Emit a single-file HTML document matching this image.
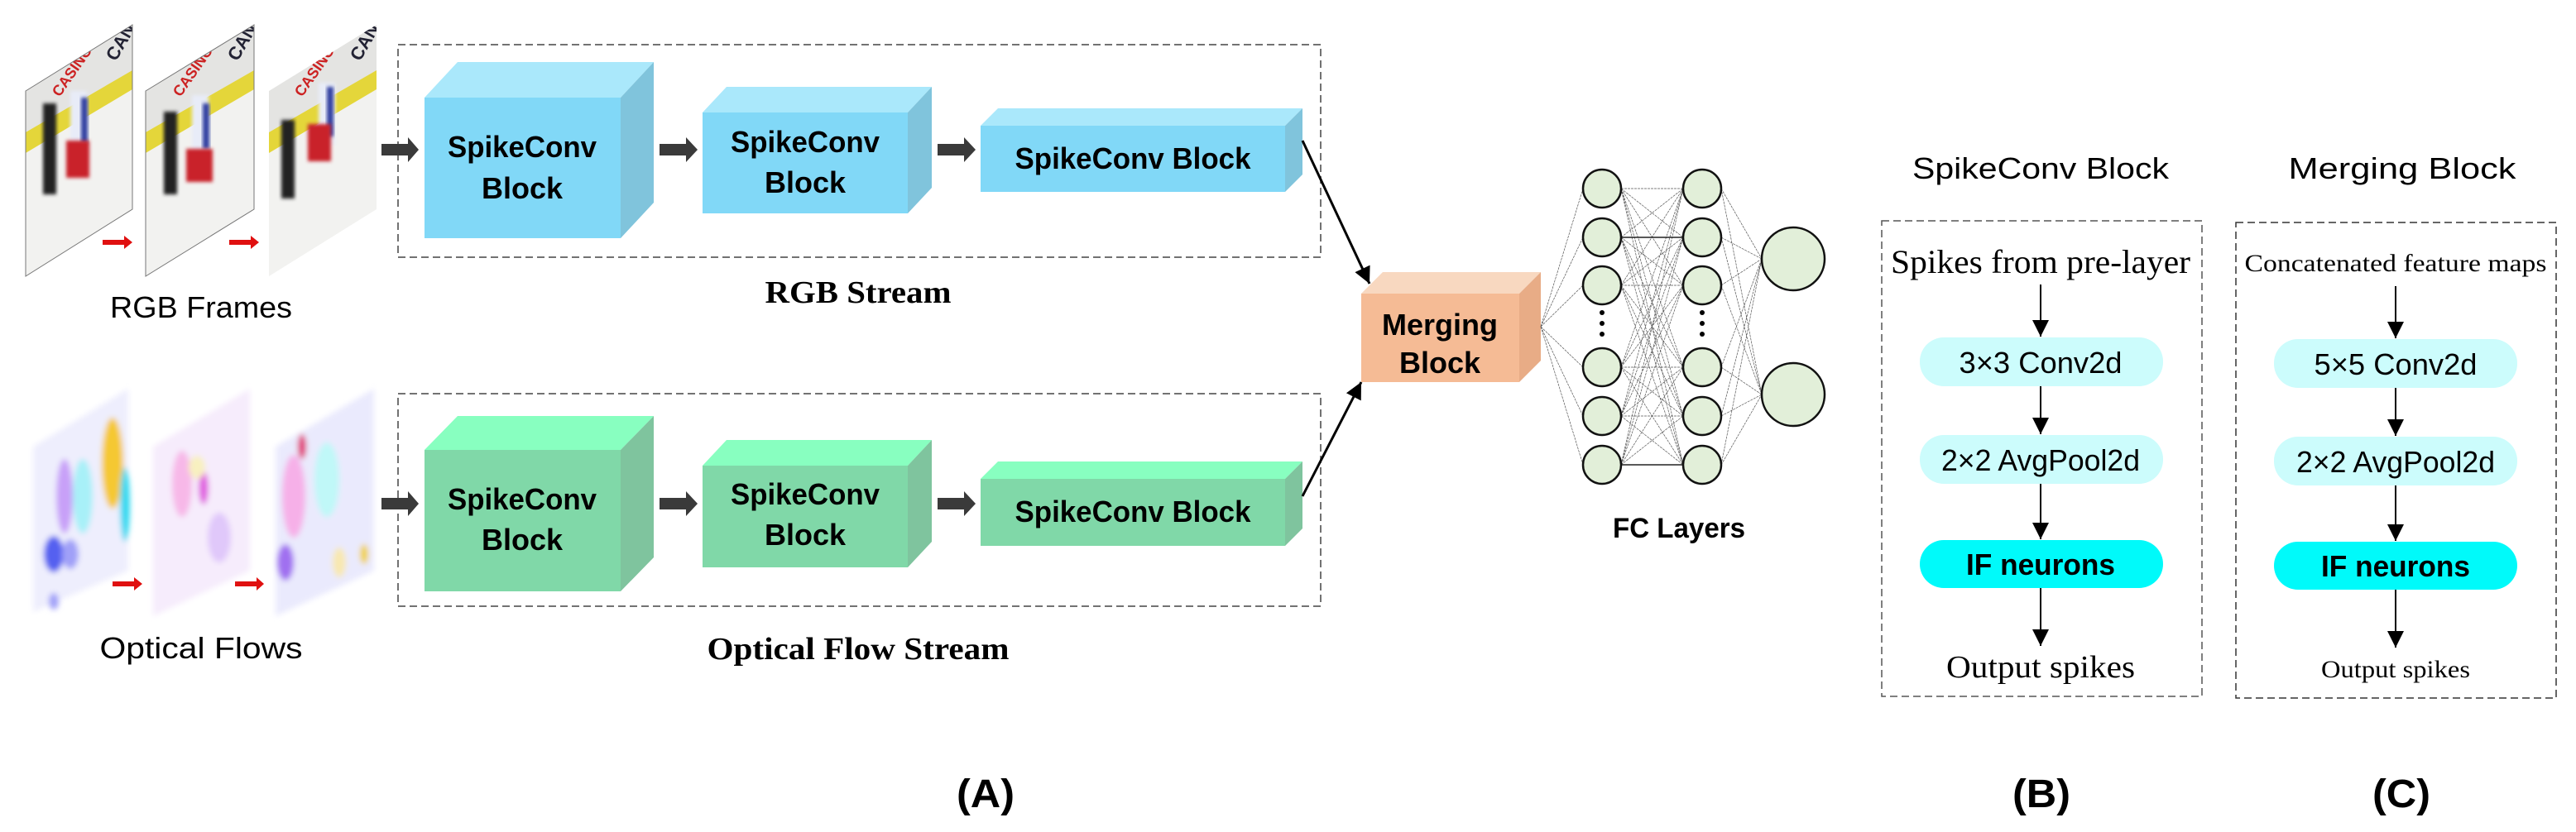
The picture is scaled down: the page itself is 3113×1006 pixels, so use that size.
<!DOCTYPE html>
<html><head><meta charset="utf-8"><style>
html,body{margin:0;padding:0;background:#fff;}
svg{display:block;}
.sans{font-family:"Liberation Sans",sans-serif;}
.serif{font-family:"Liberation Serif",serif;}
</style></head><body>
<svg width="3113" height="1006" viewBox="0 0 3113 1006" xmlns="http://www.w3.org/2000/svg">
<defs>
<filter id="bl" x="-20%" y="-20%" width="140%" height="140%"><feGaussianBlur stdDeviation="3.5"/></filter>
<filter id="bl2" x="-20%" y="-20%" width="140%" height="140%"><feGaussianBlur stdDeviation="2"/></filter>
<marker id="ah2" viewBox="0 0 10 10" refX="10" refY="5" markerWidth="28" markerHeight="20" orient="auto" markerUnits="userSpaceOnUse"><path d="M0,0 L10,5 L0,10 z" fill="#000"/></marker>
<clipPath id="f1"><polygon points="31,110 160,30 160,253 31,334"/></clipPath>
<clipPath id="f2"><polygon points="176,110 307,30 307,253 176,334"/></clipPath>
<clipPath id="f3"><polygon points="325,110 455,30 455,253 325,334"/></clipPath>
</defs>

<!-- RGB frames -->
<g clip-path="url(#f1)">
 <rect x="30" y="20" width="140" height="330" fill="#f2f2f0"/>
 <polygon points="31,110 160,30 160,95 31,165" fill="#e4e4e2"/>
 <polygon points="31,160 160,85 160,108 31,185" fill="#e4d63a"/>
 <rect x="52" y="125" width="16" height="110" fill="#222" filter="url(#bl2)"/>
 <rect x="85" y="110" width="20" height="70" fill="#e8ecf8" filter="url(#bl2)"/>
 <rect x="98" y="118" width="8" height="55" fill="#3040a0" filter="url(#bl2)"/>
 <rect x="80" y="170" width="28" height="45" fill="#c9202a" filter="url(#bl2)"/>
 <text x="72" y="118" font-size="18" fill="#c22" class="sans" font-weight="bold" transform="rotate(-55 72 118)">CASINO</text>
 <text x="140" y="75" font-size="22" fill="#223" class="sans" font-weight="bold" transform="rotate(-60 140 75)">CAN</text>
</g>
<polygon points="31,110 160,30 160,253 31,334" fill="none" stroke="#777" stroke-width="1"/>
<g clip-path="url(#f2)">
 <rect x="170" y="20" width="145" height="330" fill="#f2f2f0"/>
 <polygon points="176,110 307,30 307,95 176,165" fill="#e4e4e2"/>
 <polygon points="176,160 307,85 307,108 176,185" fill="#e4d63a"/>
 <rect x="198" y="135" width="16" height="100" fill="#222" filter="url(#bl2)"/>
 <rect x="232" y="115" width="20" height="70" fill="#e8ecf8" filter="url(#bl2)"/>
 <rect x="245" y="125" width="8" height="55" fill="#3040a0" filter="url(#bl2)"/>
 <rect x="225" y="180" width="32" height="40" fill="#c9202a" filter="url(#bl2)"/>
 <text x="218" y="118" font-size="18" fill="#c22" class="sans" font-weight="bold" transform="rotate(-55 218 118)">CASINO</text>
 <text x="287" y="75" font-size="22" fill="#223" class="sans" font-weight="bold" transform="rotate(-60 287 75)">CAN</text>
</g>
<polygon points="176,110 307,30 307,253 176,334" fill="none" stroke="#777" stroke-width="1"/>
<g clip-path="url(#f3)">
 <rect x="320" y="20" width="140" height="330" fill="#f2f2f0"/>
 <polygon points="325,110 455,30 455,95 325,165" fill="#e4e4e2"/>
 <polygon points="325,160 455,85 455,108 325,185" fill="#e4d63a"/>
 <rect x="340" y="145" width="16" height="95" fill="#222" filter="url(#bl2)"/>
 <rect x="385" y="100" width="20" height="75" fill="#e8ecf8" filter="url(#bl2)"/>
 <rect x="395" y="105" width="8" height="60" fill="#3040a0" filter="url(#bl2)"/>
 <rect x="372" y="150" width="28" height="45" fill="#c9202a" filter="url(#bl2)"/>
 <text x="365" y="118" font-size="18" fill="#c22" class="sans" font-weight="bold" transform="rotate(-55 365 118)">CASINO</text>
 <text x="435" y="75" font-size="22" fill="#223" class="sans" font-weight="bold" transform="rotate(-60 435 75)">CAN</text>
</g>
<!-- red arrows -->
<g fill="#e01010">
 <polygon points="124,290 150,290 150,285 160,293 150,301 150,296 124,296"/>
 <polygon points="277,290 303,290 303,285 313,293 303,301 303,296 277,296"/>
 <polygon points="136,703 162,703 162,698 172,706 162,714 162,709 136,709"/>
 <polygon points="284,703 310,703 310,698 319,706 310,714 310,709 284,709"/>
</g>

<!-- optical flow frames -->
<g filter="url(#bl)">
 <polygon points="40,540 155,470 155,690 40,740" fill="#eeeefd"/>
 <ellipse cx="136" cy="560" rx="13" ry="55" fill="#f5c830"/>
 <ellipse cx="151" cy="610" rx="6" ry="45" fill="#30d8f0"/>
 <ellipse cx="100" cy="600" rx="12" ry="45" fill="#a8f0f8"/>
 <ellipse cx="78" cy="600" rx="10" ry="45" fill="#c8a0f8"/>
 <ellipse cx="65" cy="670" rx="12" ry="22" fill="#5560f0"/>
 <ellipse cx="85" cy="670" rx="10" ry="18" fill="#a0a0f8"/>
 <ellipse cx="65" cy="727" rx="6" ry="10" fill="#a0a0f8"/>
 <polygon points="185,540 302,470 302,690 185,745" fill="#f6ecfc"/>
 <ellipse cx="220" cy="585" rx="12" ry="40" fill="#f7b8e8"/>
 <ellipse cx="246" cy="590" rx="6" ry="20" fill="#e060e0"/>
 <ellipse cx="238" cy="565" rx="10" ry="14" fill="#f8f0c0"/>
 <ellipse cx="265" cy="650" rx="14" ry="30" fill="#e0c8fa"/>
 <polygon points="333,540 452,470 452,690 333,745" fill="#eaeafd"/>
 <ellipse cx="355" cy="600" rx="14" ry="50" fill="#f6b0e8"/>
 <ellipse cx="395" cy="580" rx="15" ry="45" fill="#c0f8f8"/>
 <ellipse cx="365" cy="540" rx="5" ry="15" fill="#e02070"/>
 <ellipse cx="345" cy="680" rx="10" ry="22" fill="#a070f0"/>
 <ellipse cx="440" cy="670" rx="5" ry="12" fill="#f0d030"/>
 <ellipse cx="410" cy="680" rx="8" ry="18" fill="#f8e8b0"/>
</g>

<!-- labels -->
<text x="243" y="384" text-anchor="middle" font-size="36" class="sans" textLength="220" lengthAdjust="spacingAndGlyphs">RGB Frames</text>
<text x="243" y="796" text-anchor="middle" font-size="36" class="sans" textLength="245" lengthAdjust="spacingAndGlyphs">Optical Flows</text>
<text x="1037" y="366" text-anchor="middle" font-size="38" font-weight="bold" class="serif" textLength="225" lengthAdjust="spacingAndGlyphs">RGB Stream</text>
<text x="1037" y="797" text-anchor="middle" font-size="38" font-weight="bold" class="serif" textLength="365" lengthAdjust="spacingAndGlyphs">Optical Flow Stream</text>

<!-- dashed stream boxes -->
<rect x="481" y="54" width="1115" height="257" fill="none" stroke="#444" stroke-width="1.5" stroke-dasharray="9,5"/>
<rect x="481" y="476" width="1115" height="257" fill="none" stroke="#444" stroke-width="1.5" stroke-dasharray="9,5"/>

<!-- RGB blocks -->
<g>
 <polygon points="513,118 553,75 790,75 750,118" fill="#aae8fb"/>
 <polygon points="750,118 790,75 790,245 750,288" fill="#80c4dc"/>
 <rect x="513" y="118" width="237" height="170" fill="#81d8f7"/>
 <polygon points="849,136 878,105 1126,105 1097,136" fill="#aae8fb"/>
 <polygon points="1097,136 1126,105 1126,227 1097,258" fill="#80c4dc"/>
 <rect x="849" y="136" width="248" height="122" fill="#81d8f7"/>
 <polygon points="1185,152 1206,131 1574,131 1553,152" fill="#aae8fb"/>
 <polygon points="1553,152 1574,131 1574,211 1553,232" fill="#80c4dc"/>
 <rect x="1185" y="152" width="368" height="80" fill="#81d8f7"/>
</g>
<!-- OF blocks -->
<g>
 <polygon points="513,544 553,503 790,503 750,544" fill="#88ffc0"/>
 <polygon points="750,544 790,503 790,674 750,715" fill="#7fc49e"/>
 <rect x="513" y="544" width="237" height="171" fill="#80d8a8"/>
 <polygon points="849,563 878,532 1126,532 1097,563" fill="#88ffc0"/>
 <polygon points="1097,563 1126,532 1126,655 1097,686" fill="#7fc49e"/>
 <rect x="849" y="563" width="248" height="123" fill="#80d8a8"/>
 <polygon points="1185,579 1206,558 1574,558 1553,579" fill="#88ffc0"/>
 <polygon points="1553,579 1574,558 1574,639 1553,660" fill="#7fc49e"/>
 <rect x="1185" y="579" width="368" height="81" fill="#80d8a8"/>
</g>
<g class="sans" font-weight="bold" font-size="36" text-anchor="middle" fill="#000">
 <text x="631" y="190" textLength="180" lengthAdjust="spacingAndGlyphs">SpikeConv</text>
 <text x="631" y="240">Block</text>
 <text x="973" y="184" textLength="180" lengthAdjust="spacingAndGlyphs">SpikeConv</text>
 <text x="973" y="233">Block</text>
 <text x="1369" y="204" textLength="285" lengthAdjust="spacingAndGlyphs">SpikeConv Block</text>
 <text x="631" y="616" textLength="180" lengthAdjust="spacingAndGlyphs">SpikeConv</text>
 <text x="631" y="665">Block</text>
 <text x="973" y="610" textLength="180" lengthAdjust="spacingAndGlyphs">SpikeConv</text>
 <text x="973" y="659">Block</text>
 <text x="1369" y="631" textLength="285" lengthAdjust="spacingAndGlyphs">SpikeConv Block</text>
</g>
<!-- thick arrows -->
<g fill="#3a3a3a">
 <polygon points="461,174 493,174 493,166 506,181 493,196 493,188 461,188"/>
 <polygon points="797,174 829,174 829,166 843,181 829,196 829,188 797,188"/>
 <polygon points="1133,174 1165,174 1165,166 1179,181 1165,196 1165,188 1133,188"/>
 <polygon points="461,602 493,602 493,594 506,609 493,624 493,616 461,616"/>
 <polygon points="797,602 829,602 829,594 843,609 829,624 829,616 797,616"/>
 <polygon points="1133,602 1165,602 1165,594 1179,609 1165,624 1165,616 1133,616"/>
</g>

<!-- arrows to merge -->
<line x1="1574" y1="170" x2="1655" y2="343" stroke="#000" stroke-width="3" marker-end="url(#ah2)"/>
<line x1="1574" y1="600" x2="1645" y2="462" stroke="#000" stroke-width="3" marker-end="url(#ah2)"/>

<!-- merging block -->
<polygon points="1645,355 1671,329 1862,329 1836,355" fill="#f8d8c0"/>
<polygon points="1836,355 1862,329 1862,436 1836,462" fill="#e8ac86"/>
<rect x="1645" y="355" width="191" height="107" fill="#f5bb95"/>
<text x="1740" y="405" text-anchor="middle" font-size="36" font-weight="bold" class="sans" textLength="140" lengthAdjust="spacingAndGlyphs">Merging</text>
<text x="1740" y="451" text-anchor="middle" font-size="36" font-weight="bold" class="sans">Block</text>

<!-- FC layers -->
<g stroke="#555" stroke-width="0.7" fill="none" stroke-dasharray="3,1">
 <path d="M1862,395 L1913,228 M1862,395 L1913,287 M1862,395 L1913,345 M1862,395 L1913,444 M1862,395 L1913,503 M1862,395 L1913,562"/>
 <path d="M1959,228 L2034,228 M1959,228 L2034,287 M1959,228 L2034,345 M1959,228 L2034,444 M1959,228 L2034,503 M1959,228 L2034,562
 M1959,287 L2034,228 M1959,287 L2034,287 M1959,287 L2034,345 M1959,287 L2034,444 M1959,287 L2034,503 M1959,287 L2034,562
 M1959,345 L2034,228 M1959,345 L2034,287 M1959,345 L2034,345 M1959,345 L2034,444 M1959,345 L2034,503 M1959,345 L2034,562
 M1959,444 L2034,228 M1959,444 L2034,287 M1959,444 L2034,345 M1959,444 L2034,444 M1959,444 L2034,503 M1959,444 L2034,562
 M1959,503 L2034,228 M1959,503 L2034,287 M1959,503 L2034,345 M1959,503 L2034,444 M1959,503 L2034,503 M1959,503 L2034,562
 M1959,562 L2034,228 M1959,562 L2034,287 M1959,562 L2034,345 M1959,562 L2034,444 M1959,562 L2034,503 M1959,562 L2034,562"/>
 <path d="M2080,228 L2129,313 M2080,287 L2129,313 M2080,345 L2129,313 M2080,444 L2129,313 M2080,503 L2129,313 M2080,562 L2129,313
 M2080,228 L2129,477 M2080,287 L2129,477 M2080,345 L2129,477 M2080,444 L2129,477 M2080,503 L2129,477 M2080,562 L2129,477"/>
</g>
<g stroke="#222" stroke-width="1.5">
 <line x1="1959" y1="287" x2="2034" y2="287"/><line x1="1959" y1="562" x2="2034" y2="562"/>
</g>
<g fill="#e2efd9" stroke="#111" stroke-width="2.5">
 <ellipse cx="1936" cy="228" rx="23" ry="23"/><ellipse cx="1936" cy="287" rx="23" ry="23"/><ellipse cx="1936" cy="345" rx="23" ry="23"/>
 <ellipse cx="1936" cy="444" rx="23" ry="23"/><ellipse cx="1936" cy="503" rx="23" ry="23"/><ellipse cx="1936" cy="562" rx="23" ry="23"/>
 <ellipse cx="2057" cy="228" rx="23" ry="23"/><ellipse cx="2057" cy="287" rx="23" ry="23"/><ellipse cx="2057" cy="345" rx="23" ry="23"/>
 <ellipse cx="2057" cy="444" rx="23" ry="23"/><ellipse cx="2057" cy="503" rx="23" ry="23"/><ellipse cx="2057" cy="562" rx="23" ry="23"/>
 <ellipse cx="2167" cy="313" rx="38" ry="38"/><ellipse cx="2167" cy="477" rx="38" ry="38"/>
</g>
<g fill="#000">
 <circle cx="1936" cy="378" r="3"/><circle cx="1936" cy="391" r="3"/><circle cx="1936" cy="404" r="3"/>
 <circle cx="2057" cy="378" r="3"/><circle cx="2057" cy="391" r="3"/><circle cx="2057" cy="404" r="3"/>
</g>
<text x="2029" y="650" text-anchor="middle" font-size="34" font-weight="bold" class="sans" textLength="160" lengthAdjust="spacingAndGlyphs">FC Layers</text>

<!-- panel B -->
<text x="2466" y="216" text-anchor="middle" font-size="36" class="sans" textLength="310" lengthAdjust="spacingAndGlyphs">SpikeConv Block</text>
<rect x="2274" y="267" width="387" height="575" fill="none" stroke="#555" stroke-width="1.5" stroke-dasharray="9,5"/>
<text x="2466" y="330" text-anchor="middle" font-size="40" class="serif" textLength="362" lengthAdjust="spacingAndGlyphs">Spikes from pre-layer</text>
<g stroke="#000" stroke-width="2">
 <line x1="2466" y1="344" x2="2466" y2="407" marker-end="url(#ah2)"/>
 <line x1="2466" y1="467" x2="2466" y2="525" marker-end="url(#ah2)"/>
 <line x1="2466" y1="585" x2="2466" y2="652" marker-end="url(#ah2)"/>
 <line x1="2466" y1="711" x2="2466" y2="781" marker-end="url(#ah2)"/>
</g>
<rect x="2320" y="408" width="294" height="59" rx="29" fill="#ccfcfc"/>
<rect x="2320" y="526" width="294" height="59" rx="29" fill="#ccfcfc"/>
<rect x="2320" y="653" width="294" height="58" rx="29" fill="#00fafa"/>
<text x="2466" y="451" text-anchor="middle" font-size="36" class="sans" textLength="197" lengthAdjust="spacingAndGlyphs">3×3 Conv2d</text>
<text x="2466" y="569" text-anchor="middle" font-size="36" class="sans" textLength="240" lengthAdjust="spacingAndGlyphs">2×2 AvgPool2d</text>
<text x="2466" y="695" text-anchor="middle" font-size="36" font-weight="bold" class="sans" textLength="180" lengthAdjust="spacingAndGlyphs">IF neurons</text>
<text x="2466" y="819" text-anchor="middle" font-size="38" class="serif" textLength="228" lengthAdjust="spacingAndGlyphs">Output spikes</text>

<!-- panel C -->
<text x="2903" y="216" text-anchor="middle" font-size="36" class="sans" textLength="275" lengthAdjust="spacingAndGlyphs">Merging Block</text>
<rect x="2702" y="269" width="387" height="575" fill="none" stroke="#333" stroke-width="1.5" stroke-dasharray="9,5"/>
<text x="2895" y="328" text-anchor="middle" font-size="30" class="serif" textLength="365" lengthAdjust="spacingAndGlyphs">Concatenated feature maps</text>
<g stroke="#000" stroke-width="2">
 <line x1="2895" y1="346" x2="2895" y2="409" marker-end="url(#ah2)"/>
 <line x1="2895" y1="469" x2="2895" y2="527" marker-end="url(#ah2)"/>
 <line x1="2895" y1="587" x2="2895" y2="654" marker-end="url(#ah2)"/>
 <line x1="2895" y1="713" x2="2895" y2="783" marker-end="url(#ah2)"/>
</g>
<rect x="2748" y="410" width="294" height="59" rx="29" fill="#ccfcfc"/>
<rect x="2748" y="528" width="294" height="59" rx="29" fill="#ccfcfc"/>
<rect x="2748" y="655" width="294" height="58" rx="29" fill="#00fafa"/>
<text x="2895" y="453" text-anchor="middle" font-size="36" class="sans" textLength="197" lengthAdjust="spacingAndGlyphs">5×5 Conv2d</text>
<text x="2895" y="571" text-anchor="middle" font-size="36" class="sans" textLength="240" lengthAdjust="spacingAndGlyphs">2×2 AvgPool2d</text>
<text x="2895" y="697" text-anchor="middle" font-size="36" font-weight="bold" class="sans" textLength="180" lengthAdjust="spacingAndGlyphs">IF neurons</text>
<text x="2895" y="819" text-anchor="middle" font-size="30" class="serif" textLength="180" lengthAdjust="spacingAndGlyphs">Output spikes</text>

<!-- (A)(B)(C) -->
<g class="sans" font-weight="bold" font-size="48" text-anchor="middle">
 <text x="1191" y="976" textLength="70" lengthAdjust="spacingAndGlyphs">(A)</text>
 <text x="2467" y="976" textLength="70" lengthAdjust="spacingAndGlyphs">(B)</text>
 <text x="2902" y="976" textLength="70" lengthAdjust="spacingAndGlyphs">(C)</text>
</g>
</svg>
</body></html>
